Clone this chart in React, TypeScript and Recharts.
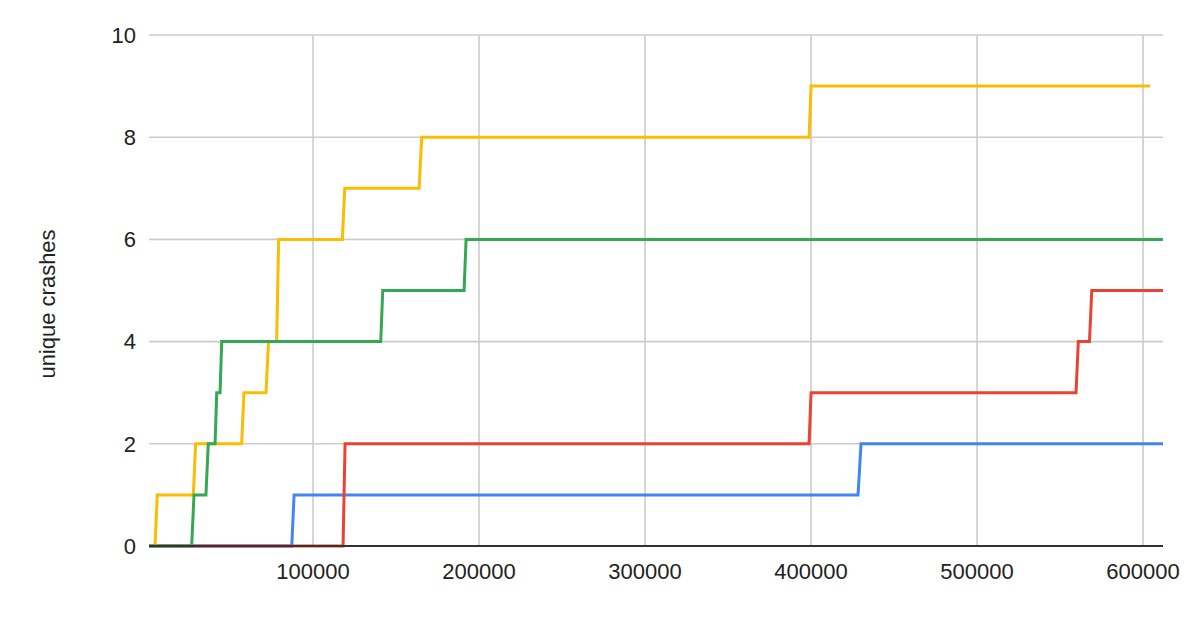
import React from 'react';
import { LineChart, Line, XAxis, YAxis, CartesianGrid } from 'recharts';

const blueX = [1200, 87200, 88600, 428300, 430100, 612000];
const blueY = [0, 0, 1, 1, 2, 2];
const redX = [1200, 118100, 119300, 398800, 400000, 559600, 561000, 567700, 569100, 612000];
const redY = [0, 0, 2, 2, 3, 3, 4, 4, 5, 5];
const yellowX = [4800, 6200, 27900, 29300, 57000, 58400, 71700, 73200, 78100, 79300, 117700, 119100, 163900, 165500, 398800, 400000, 604200];
const yellowY = [0, 1, 1, 2, 2, 3, 3, 4, 4, 6, 6, 7, 7, 8, 8, 9, 9];
const greenX = [1200, 26900, 28300, 35500, 36900, 41000, 42000, 44000, 45000, 140800, 142000, 191000, 192200, 612000];
const greenY = [0, 0, 1, 1, 2, 2, 3, 3, 4, 4, 5, 5, 6, 6];

const xTicks = [100000, 200000, 300000, 400000, 500000, 600000];
const yTicks = [0, 2, 4, 6, 8, 10];
const yLabel = 'unique crashes';

const X_MIN = 1200;
const X_MAX = 612000;
const Y_MIN = 0;
const Y_MAX = 10;

const zip = (xs: number[], ys: number[]) => xs.map((x, i) => ({ x, y: ys[i] }));

const series = [
  { name: 'blue', color: '#4285f4', data: zip(blueX, blueY) },
  { name: 'red', color: '#ea4335', data: zip(redX, redY) },
  { name: 'yellow', color: '#fbbc04', data: zip(yellowX, yellowY) },
  { name: 'green', color: '#34a853', data: zip(greenX, greenY) },
];

const FONT = "Arial, 'Liberation Sans', sans-serif";
const MARGIN = { top: 35, right: 37, bottom: 54, left: 89 };
const W = 1200;
const H = 630;
const Y_AXIS_W = 60;
const X_AXIS_H = 30;

const plotLeft = MARGIN.left + Y_AXIS_W;
const plotWidth = W - plotLeft - MARGIN.right;
const plotTop = MARGIN.top;
const plotHeight = H - MARGIN.top - MARGIN.bottom - X_AXIS_H;

const vGen = (p: any) => {
  const o = p && p.offset ? p.offset : { left: plotLeft, width: plotWidth };
  return xTicks.map((t) => o.left + ((t - X_MIN) / (X_MAX - X_MIN)) * o.width);
};
const hGen = (p: any) => {
  const o = p && p.offset ? p.offset : { top: plotTop, height: plotHeight };
  return yTicks.map((t) => o.top + (1 - (t - Y_MIN) / (Y_MAX - Y_MIN)) * o.height);
};

const YLabel = () => {
  const cx = 47;
  const cy = 304;
  return (
    <text
      x={cx}
      y={cy}
      transform={`rotate(-90, ${cx}, ${cy})`}
      textAnchor="middle"
      dominantBaseline="central"
      fontSize={22}
      fontFamily={FONT}
      fill="#222"
    >
      {yLabel}
    </text>
  );
};

export default function App() {
  return (
    <div style={{ position: 'absolute', left: 0, top: 0, width: W, height: H, background: '#fff' }}>
      <LineChart width={W} height={H} margin={MARGIN}>
        <CartesianGrid
          stroke="#cccccc"
          strokeWidth={1.6}
          vertical
          horizontal
          verticalCoordinatesGenerator={vGen}
          horizontalCoordinatesGenerator={hGen}
        />
        <XAxis
          dataKey="x"
          type="number"
          domain={[X_MIN, X_MAX]}
          ticks={xTicks}
          allowDataOverflow
          height={X_AXIS_H}
          tickLine={false}
          tickMargin={11}
          axisLine={{ stroke: '#333', strokeWidth: 2 }}
          tick={{ fontSize: 22, fontFamily: FONT, fill: '#222' }}
        />
        <YAxis
          type="number"
          domain={[Y_MIN, Y_MAX]}
          ticks={yTicks}
          width={Y_AXIS_W}
          axisLine={false}
          tickLine={false}
          tickMargin={7}
          tick={{ fontSize: 22, fontFamily: FONT, fill: '#222' }}
          label={<YLabel />}
        />
        {series.map((s) => (
          <Line
            key={s.name}
            data={s.data}
            dataKey="y"
            type="linear"
            stroke={s.color}
            strokeWidth={3}
            dot={false}
            activeDot={false}
            isAnimationActive={false}
          />
        ))}
      </LineChart>
    </div>
  );
}
